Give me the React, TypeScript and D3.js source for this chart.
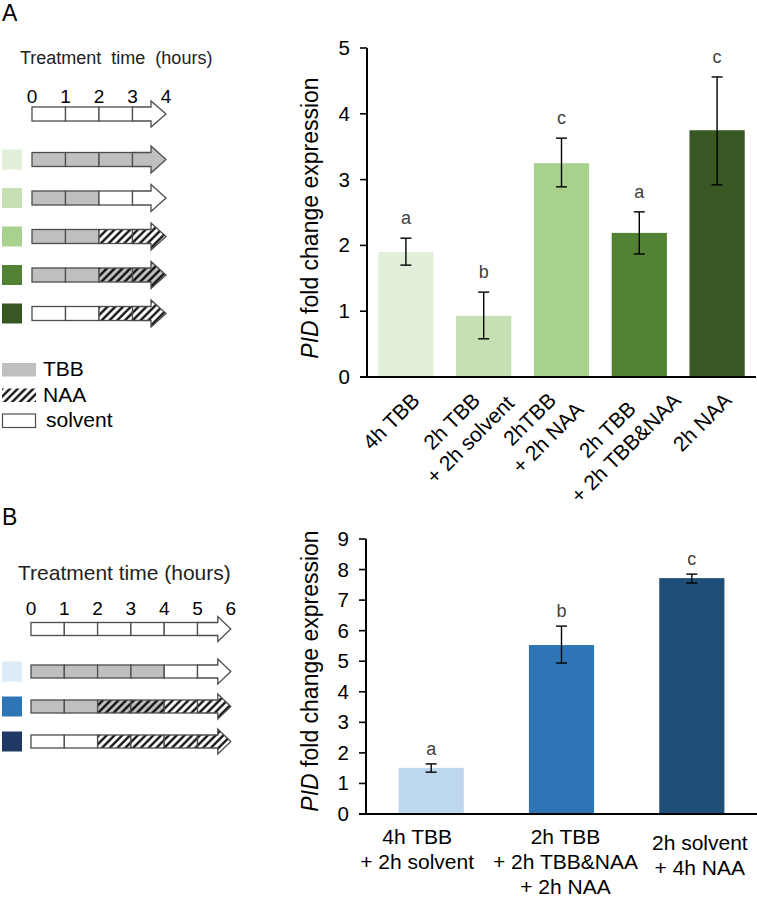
import React from 'react';
import * as d3 from 'd3';

// ---------- Data ----------
const categoriesA: string[][] = [
  ['4h TBB'],
  ['2h TBB', '+ 2h solvent'],
  ['2hTBB', '+ 2h NAA'],
  ['2h TBB', '+ 2h TBB&NAA'],
  ['2h NAA'],
];
const valuesA = [1.9, 0.93, 3.25, 2.19, 3.75];
const errHighA = [2.11, 1.29, 3.63, 2.51, 4.56];
const errLowA = [1.7, 0.58, 2.89, 1.87, 2.92];
const lettersA = ['a', 'b', 'c', 'a', 'c'];
const colorsA = ['#e2efda', '#c6e0b4', '#a9d18e', '#548235', '#385723'];
const ticksA = [0, 1, 2, 3, 4, 5];

const categoriesB: string[][] = [
  ['4h TBB', '+ 2h solvent'],
  ['2h TBB', '+ 2h TBB&NAA', '+ 2h NAA'],
  ['2h solvent', '+ 4h NAA'],
];
const valuesB = [1.51, 5.53, 7.72];
const errHighB = [1.64, 6.15, 7.85];
const errLowB = [1.37, 4.94, 7.56];
const lettersB = ['a', 'b', 'c'];
const colorsB = ['#bdd7ee', '#2e75b6', '#1f4e79'];
const ticksB = [0, 1, 2, 3, 4, 5, 6, 7, 8, 9];

// schematic: s = solvent, t = TBB, n = NAA, tn = TBB & NAA
const hoursA = [0, 1, 2, 3, 4];
const rowsA: string[][] = [
  ['t', 't', 't', 't'],
  ['t', 't', 's', 's'],
  ['t', 't', 'n', 'n'],
  ['t', 't', 'tn', 'tn'],
  ['s', 's', 'n', 'n'],
];
const swatchA = colorsA;

const hoursB = [0, 1, 2, 3, 4, 5, 6];
const rowsB: string[][] = [
  ['t', 't', 't', 't', 's', 's'],
  ['t', 't', 'tn', 'tn', 'n', 'n'],
  ['s', 's', 'n', 'n', 'n', 'n'],
];
const swatchB = ['#ddebf7', '#2e75b6', '#203864'];

const legendItems = [
  { key: 't', label: 'TBB' },
  { key: 'n', label: 'NAA' },
  { key: 's', label: 'solvent' },
];

// ---------- Layout / style ----------
const FONT = '"Liberation Sans", Arial, Helvetica, sans-serif';
const TBB_GRAY = '#bfbfbf';
const OUTLINE = '#4d4d4d';
const labelDxB = [-14, 4, 8];
const labelDyB = [0, 0, 6];

let ctx: CanvasRenderingContext2D | null = null;
function textWidth(s: string, size: number) {
  if (typeof document !== 'undefined') {
    if (!ctx) ctx = document.createElement('canvas').getContext('2d');
    if (ctx) {
      ctx.font = `${size}px "Liberation Sans", Arial, sans-serif`;
      return ctx.measureText(s).width;
    }
  }
  return s.length * size * 0.52;
}

const fillFor = (k: string) =>
  k === 't' ? TBB_GRAY : k === 'n' ? 'url(#hatchW)' : k === 'tn' ? 'url(#hatchG)' : '#ffffff';

function ArrowRow({ x0, unit, cy, fills, hh, headH, headLen }: any) {
  const n = fills.length;
  const xs = d3.range(n + 1).map((i) => x0 + i * unit);
  const last = fills[n - 1];
  const tip = xs[n];
  const hs = tip - headLen;
  const pts = [
    [xs[n - 1], cy - hh],
    [hs, cy - hh],
    [hs, cy - headH],
    [tip, cy],
    [hs, cy + headH],
    [hs, cy + hh],
    [xs[n - 1], cy + hh],
  ];
  return (
    <g>
      {fills.slice(0, n - 1).map((f: string, i: number) => (
        <rect key={i} x={xs[i]} y={cy - hh} width={unit} height={hh * 2} fill={fillFor(f)} stroke={OUTLINE} strokeWidth={1.3} />
      ))}
      <polygon points={pts.map((p) => p.join(',')).join(' ')} fill={fillFor(last)} stroke={OUTLINE} strokeWidth={1.3} strokeLinejoin="miter" />
    </g>
  );
}

function RotLabel({ lines, tx, fs }: { lines: string[]; tx: number; fs: number }) {
  const a = Math.SQRT1_2;
  const n = lines.length;
  const lh = 26;
  const capH = 0.716 * fs;
  const vs = lines.map((_, i) => -((n - 1) * lh) / 2 + i * lh + capH / 2);
  const ws = lines.map((l) => textWidth(l, fs));
  const minY = d3.min(lines.map((_, i) => a * (vs[i] - capH - ws[i] / 2))) as number;
  const cy = 391 - minY;
  const cx = tx - (n === 1 ? 15 : 23);
  return (
    <g transform={`translate(${cx},${cy}) rotate(-45)`}>
      {lines.map((l, i) => (
        <text key={i} x={0} y={vs[i]} textAnchor="middle" fontSize={fs} fill="#000">
          {l}
        </text>
      ))}
    </g>
  );
}

function YTitle({ x, y }: { x: number; y: number }) {
  return (
    <text transform={`translate(${x},${y}) rotate(-90)`} textAnchor="middle" fontSize={23} fill="#000">
      <tspan fontStyle="italic">PID</tspan>
      <tspan> fold change expression</tspan>
    </text>
  );
}

export default function App() {
  // Chart A scales
  const xA = d3.scaleBand<number>().domain(d3.range(valuesA.length)).range([367, 756]).paddingInner(0.29).paddingOuter(0.145);
  const yA = d3.scaleLinear().domain([0, 5]).range([377, 48]);
  // Chart B scales
  const xB = d3.scaleBand<number>().domain(d3.range(valuesB.length)).range([366, 757]).paddingInner(0.5).paddingOuter(0.25);
  const yB = d3.scaleLinear().domain([0, 9]).range([814, 539]);

  const unitA = 33.5;
  const x0A = 32;
  const rowYA = (i: number) => 159.5 + i * 38.5;
  const unitB = 33.3;
  const x0B = 31;
  const rowYB = (i: number) => 671.5 + i * 35;

  return (
    <svg width={757} height={899} style={{ position: 'absolute', left: 0, top: 0, background: '#fff' }} fontFamily={FONT}>
      <defs>
        <pattern id="hatchW" patternUnits="userSpaceOnUse" width={5.5} height={5.5} patternTransform="rotate(45)">
          <rect width={5.5} height={5.5} fill="#fff" />
          <line x1={1.4} y1={0} x2={1.4} y2={5.5} stroke="#000" strokeWidth={2.2} />
        </pattern>
        <pattern id="hatchG" patternUnits="userSpaceOnUse" width={5.5} height={5.5} patternTransform="rotate(45)">
          <rect width={5.5} height={5.5} fill={TBB_GRAY} />
          <line x1={1.4} y1={0} x2={1.4} y2={5.5} stroke="#000" strokeWidth={2.2} />
        </pattern>
      </defs>
      <rect width={757} height={899} fill="#fff" />

      {/* ---------------- Panel A ---------------- */}
      <text x={2} y={21} fontSize={23} fill="#000">A</text>
      <text x={20} y={64} fontSize={18} fill="#222" style={{ whiteSpace: 'pre' }}>
        {'Treatment  time  (hours)'}
      </text>
      {hoursA.map((h) => (
        <text key={h} x={x0A + h * unitA} y={103} fontSize={19} textAnchor="middle" fill="#000">
          {h}
        </text>
      ))}
      <ArrowRow x0={x0A} unit={unitA} cy={114} fills={['s', 's', 's', 's']} hh={7} headH={13} headLen={15} />
      {rowsA.map((r, i) => (
        <g key={i}>
          <rect x={2} y={rowYA(i) - 10} width={20} height={20} fill={swatchA[i]} />
          <ArrowRow x0={x0A} unit={unitA} cy={rowYA(i)} fills={r} hh={7} headH={13.5} headLen={15} />
        </g>
      ))}
      {/* legend */}
      {legendItems.map((it, i) => {
        const y = 363 + i * 25.5;
        return (
          <g key={it.key}>
            {it.key === 's' ? (
              <rect x={2.5} y={y} width={33} height={13.5} fill="#fff" stroke={OUTLINE} strokeWidth={1.2} />
            ) : (
              <rect x={2} y={y} width={34} height={13.5} fill={fillFor(it.key)} />
            )}
            <text x={it.key === 's' ? 46 : 43} y={y + 13} fontSize={21} fill="#000">
              {it.label}
            </text>
          </g>
        );
      })}

      {/* Chart A */}
      {valuesA.map((v, i) => (
        <rect key={i} x={xA(i)} y={yA(v)} width={xA.bandwidth()} height={yA(0) - yA(v)} fill={colorsA[i]} />
      ))}
      {valuesA.map((v, i) => {
        const cx = (xA(i) as number) + xA.bandwidth() / 2;
        return (
          <g key={i} stroke="#000" strokeWidth={1.4}>
            <line x1={cx} x2={cx} y1={yA(errHighA[i])} y2={yA(errLowA[i])} />
            <line x1={cx - 5.5} x2={cx + 5.5} y1={yA(errHighA[i])} y2={yA(errHighA[i])} />
            <line x1={cx - 5.5} x2={cx + 5.5} y1={yA(errLowA[i])} y2={yA(errLowA[i])} />
          </g>
        );
      })}
      {lettersA.map((l, i) => (
        <text key={i} x={(xA(i) as number) + xA.bandwidth() / 2} y={yA(errHighA[i]) - 14} fontSize={18} textAnchor="middle" fill="#404040">
          {l}
        </text>
      ))}
      <line x1={367} x2={367} y1={yA(5)} y2={yA(0)} stroke="#000" strokeWidth={2} />
      <line x1={360} x2={756} y1={yA(0)} y2={yA(0)} stroke="#000" strokeWidth={2} />
      {ticksA.map((t) => (
        <g key={t}>
          <line x1={360} x2={367} y1={yA(t)} y2={yA(t)} stroke="#000" strokeWidth={1.6} />
          <text x={350} y={yA(t) + 7} fontSize={20.5} textAnchor="end" fill="#000">
            {t}
          </text>
        </g>
      ))}
      <YTitle x={318} y={218} />
      {categoriesA.map((lines, i) => (
        <RotLabel key={i} lines={lines} tx={(xA(i) as number) + xA.bandwidth() / 2} fs={21} />
      ))}

      {/* ---------------- Panel B ---------------- */}
      <text x={2} y={525} fontSize={23} fill="#000">B</text>
      <text x={18} y={580} fontSize={21} fill="#222">Treatment time (hours)</text>
      {hoursB.map((h) => (
        <text key={h} x={x0B + h * unitB} y={615} fontSize={19} textAnchor="middle" fill="#000">
          {h}
        </text>
      ))}
      <ArrowRow x0={x0B} unit={unitB} cy={629} fills={['s', 's', 's', 's', 's', 's']} hh={6.5} headH={12.5} headLen={13} />
      {rowsB.map((r, i) => (
        <g key={i}>
          <rect x={2} y={rowYB(i) - 10} width={20} height={20} fill={swatchB[i]} />
          <ArrowRow x0={x0B} unit={unitB} cy={rowYB(i)} fills={r} hh={6.5} headH={12.5} headLen={13} />
        </g>
      ))}

      {/* Chart B */}
      {valuesB.map((v, i) => (
        <rect key={i} x={xB(i)} y={yB(v)} width={xB.bandwidth()} height={yB(0) - yB(v)} fill={colorsB[i]} />
      ))}
      {valuesB.map((v, i) => {
        const cx = (xB(i) as number) + xB.bandwidth() / 2;
        return (
          <g key={i} stroke="#000" strokeWidth={1.4}>
            <line x1={cx} x2={cx} y1={yB(errHighB[i])} y2={yB(errLowB[i])} />
            <line x1={cx - 5.5} x2={cx + 5.5} y1={yB(errHighB[i])} y2={yB(errHighB[i])} />
            <line x1={cx - 5.5} x2={cx + 5.5} y1={yB(errLowB[i])} y2={yB(errLowB[i])} />
          </g>
        );
      })}
      {lettersB.map((l, i) => (
        <text key={i} x={(xB(i) as number) + xB.bandwidth() / 2} y={yB(errHighB[i]) - 9} fontSize={18} textAnchor="middle" fill="#404040">
          {l}
        </text>
      ))}
      <line x1={366} x2={366} y1={yB(9)} y2={yB(0)} stroke="#000" strokeWidth={2} />
      <line x1={359} x2={757} y1={yB(0)} y2={yB(0)} stroke="#000" strokeWidth={2} />
      {ticksB.map((t) => (
        <g key={t}>
          <line x1={359} x2={366} y1={yB(t)} y2={yB(t)} stroke="#000" strokeWidth={1.6} />
          <text x={349} y={yB(t) + 7} fontSize={20.5} textAnchor="end" fill="#000">
            {t}
          </text>
        </g>
      ))}
      <YTitle x={318} y={671} />
      {categoriesB.map((lines, i) => {
        const cx = (xB(i) as number) + xB.bandwidth() / 2 + labelDxB[i];
        return (
          <g key={i}>
            {lines.map((l, j) => (
              <text key={j} x={cx} y={844 + labelDyB[i] + j * 25} fontSize={21} textAnchor="middle" fill="#000">
                {l}
              </text>
            ))}
          </g>
        );
      })}
    </svg>
  );
}
